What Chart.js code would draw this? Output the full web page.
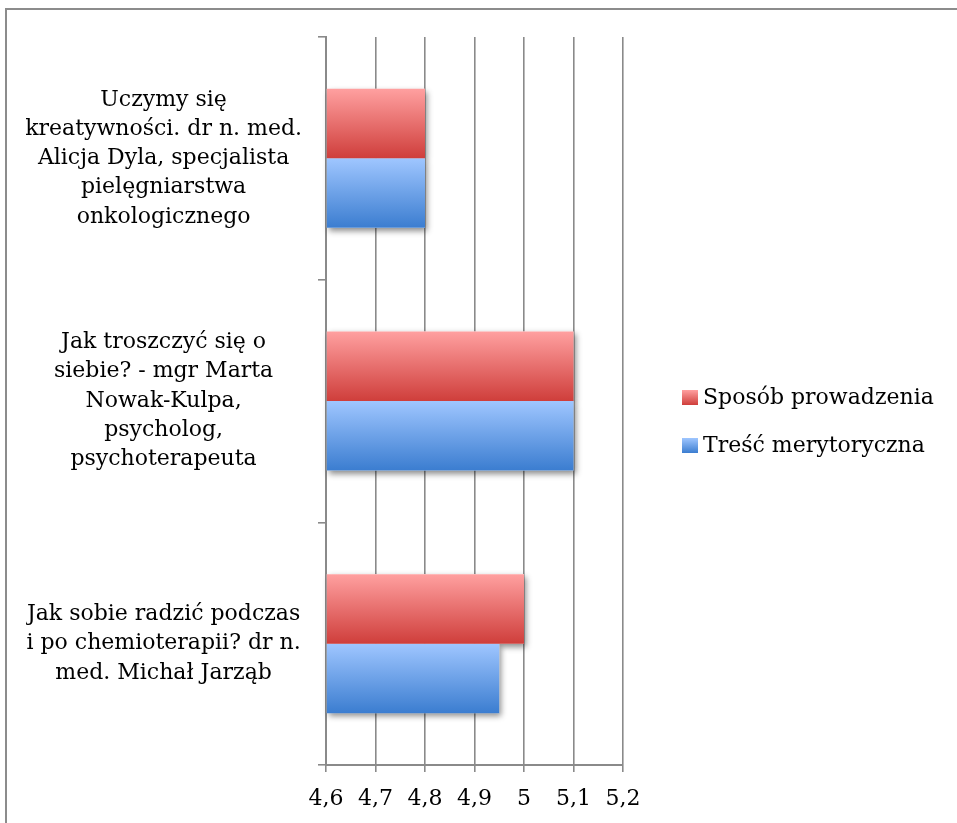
<!DOCTYPE html>
<html>
<head>
<meta charset="utf-8">
<title>Ocena wykładów</title>
<script src="https://cdn.jsdelivr.net/npm/chart.js@4.4.1/dist/chart.umd.min.js"></script>
<style>
  html, body { margin: 0; padding: 0; background: #fff; }
  body { width: 957px; height: 823px; overflow: hidden; position: relative; }
  .frame { position: absolute; left: 5px; top: 8px; width: 1200px; height: 1200px; border: 2px solid #8c8c8c; box-sizing: border-box; }
  .wrap { position: absolute; left: 0; top: 0; width: 957px; height: 823px; }
  .legend { position: absolute; left: 682px; top: 380px; font: 22px 'DejaVu Serif', serif; color: #000; }
  .legend div { height: 33px; line-height: 33px; margin-bottom: 15px; white-space: nowrap; }
  .legend span { display: inline-block; width: 16px; height: 15px; margin-right: 5px; vertical-align: -1px; }
</style>
</head>
<body>
<div class="frame"></div>
<div class="wrap"><canvas id="chart"></canvas></div>
<div class="legend" id="legend"></div>
<script>
// categories (multi-line labels), top to bottom
const categories = [
  ["Uczymy się", "kreatywności. dr n. med.", "Alicja Dyla, specjalista", "pielęgniarstwa", "onkologicznego"],
  ["Jak troszczyć się o", "siebie? - mgr Marta", "Nowak-Kulpa,", "psycholog,", "psychoterapeuta"],
  ["Jak sobie radzić podczas", "i po chemioterapii? dr n.", "med. Michał Jarząb"]
];
const seriesNames = ["Sposób prowadzenia", "Treść merytoryczna"];
const sposobValues = [4.8, 5.1, 5.0];
const trescValues = [4.8, 5.1, 4.95];
const xTicks = [4.6, 4.7, 4.8, 4.9, 5.0, 5.1, 5.2];

// styling
const redStops = ["#ffa0a0", "#cf3e3b"];
const blueStops = ["#9fc6ff", "#3b7dd0"];
const lineGray = "#8a8a8a";
const font = { family: "'DejaVu Serif', serif", size: 22, lineHeight: 1.33 };
const xFont = { family: "'DejaVu Serif', serif", size: 22, lineHeight: 2 };

// legend (html, right side)
const legendEl = document.getElementById("legend");
[redStops, blueStops].forEach((stops, i) => {
  const row = document.createElement("div");
  const box = document.createElement("span");
  box.style.background = "linear-gradient(" + stops[0] + "," + stops[1] + ")";
  row.appendChild(box);
  row.appendChild(document.createTextNode(seriesNames[i]));
  legendEl.appendChild(row);
});

// gradient fill per bar + soft drop shadow underneath
const barLook = {
  id: "barLook",
  beforeDatasetsDraw(chart) {
    const ctx = chart.ctx;
    const area = chart.chartArea;
    chart.data.datasets.forEach((ds, i) => {
      chart.getDatasetMeta(i).data.forEach(el => {
        const top = el.y - el.height / 2;
        const g = ctx.createLinearGradient(0, top, 0, top + el.height);
        g.addColorStop(0, ds.stops[0]);
        g.addColorStop(1, ds.stops[1]);
        el.options = Object.assign({}, el.options, { backgroundColor: g });
      });
    });
    ctx.save();
    ctx.shadowColor = "rgba(0,0,0,0.45)";
    ctx.shadowBlur = 6;
    ctx.shadowOffsetX = 2;
    ctx.shadowOffsetY = 3;
    ctx.fillStyle = "#fff";
    chart.data.datasets.forEach((ds, i) => {
      chart.getDatasetMeta(i).data.forEach(el => {
        const left = Math.max(Math.min(el.x, el.base), area.left);
        const right = Math.max(el.x, el.base);
        ctx.fillRect(left, el.y - el.height / 2, right - left, el.height);
      });
    });
    ctx.restore();
  }
};

new Chart(document.getElementById("chart"), {
  type: "bar",
  data: {
    labels: categories,
    datasets: [
      { label: seriesNames[0], data: sposobValues, stops: redStops, backgroundColor: redStops[1], base: xTicks[0] },
      { label: seriesNames[1], data: trescValues, stops: blueStops, backgroundColor: blueStops[1], base: xTicks[0] }
    ]
  },
  options: {
    indexAxis: "y",
    responsive: true,
    maintainAspectRatio: false,
    animation: false,
    categoryPercentage: 0.573,
    barPercentage: 1,
    layout: { padding: { left: 26, top: 37, right: 334, bottom: -3 } },
    scales: {
      x: {
        min: 4.6, max: 5.2,
        afterBuildTicks: s => { s.ticks = xTicks.map(v => ({ value: v })); },
        grid: { color: lineGray, lineWidth: 1.6, tickLength: 7 },
        border: { display: true, color: lineGray, width: 2 },
        ticks: {
          color: "#000", padding: 5, font: xFont, autoSkip: false, maxRotation: 0,
          callback: v => String(Math.round(v * 10) / 10).replace(".", ",")
        }
      },
      y: {
        offset: true,
        afterFit: s => { s.width = 300; s.paddingTop = 0; s.paddingBottom = 0; },
        grid: { offset: true, drawOnChartArea: false, tickLength: 8, color: lineGray, lineWidth: 1.6 },
        border: { display: true, color: lineGray, width: 2 },
        ticks: { crossAlign: "center", padding: 16, color: "#000", font: font, autoSkip: false }
      }
    },
    plugins: {
      legend: { display: false },
      tooltip: { enabled: false }
    }
  },
  plugins: [barLook]
});
</script>
</body>
</html>
